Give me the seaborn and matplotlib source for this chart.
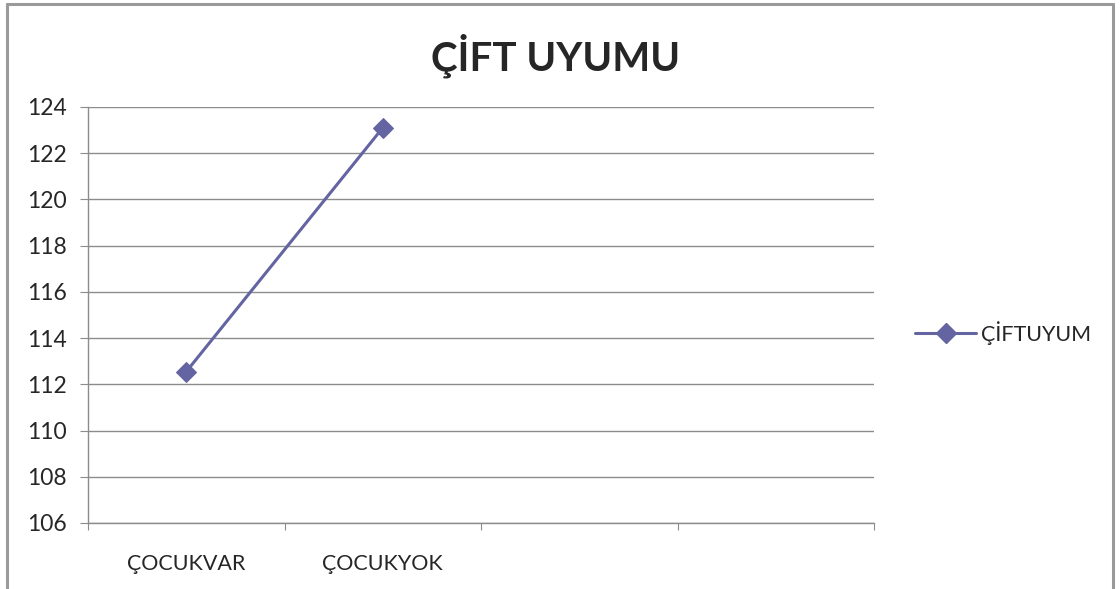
import numpy as np
import pandas as pd
import matplotlib
matplotlib.use('Agg')
import matplotlib.pyplot as plt
from matplotlib.lines import Line2D
import seaborn as sns

#%% data
categories = ['ÇOCUKVAR', 'ÇOCUKYOK', '', '']
values     = [112.55, 123.1]
series     = 'ÇİFTUYUM'
title      = 'ÇİFT UYUMU'
yticks     = np.arange(106, 125, 2)

df = pd.DataFrame({'x': np.arange(len(values)), 'y': values, 'serie': series})

#%% style
sns.set_style('white')
plt.rcParams['font.family'] = ['Lato', 'DejaVu Sans']
col   = '#6464A2'
gridc = '#8C8C8C'

fig = plt.figure(figsize=(11.2, 5.89), dpi=100)
ax = fig.add_axes([88/1120, 1-523/589, (874-88)/1120, (523-107)/589])

sns.lineplot(data=df, x='x', y='y', hue='serie', palette=[col], marker='D',
             markersize=10, markeredgecolor=col, linewidth=2.2, ax=ax, legend=False)

ax.set_xlim(-0.5, len(categories)-0.5)
ax.set_ylim(yticks[0], yticks[-1])
ax.set_yticks(yticks)
ax.set_yticklabels([str(v) for v in yticks], fontsize=16.5)
ax.set_xticks(np.arange(len(categories)+1)-0.5)
ax.set_xticklabels([])
ax.set_xticks(np.arange(len(categories)), minor=True)
ax.set_xticklabels(categories, minor=True, fontsize=15.5)
ax.tick_params(axis='x', which='minor', length=0, pad=22)
ax.tick_params(axis='x', which='major', length=5, color=gridc, direction='out', bottom=True)
ax.tick_params(axis='y', length=6, color=gridc, direction='out', left=True, pad=9)
ax.yaxis.grid(True, color=gridc, linewidth=1)
ax.set_axisbelow(True)
for s in ['top', 'right']:
    ax.spines[s].set_visible(False)
for s in ['left', 'bottom']:
    ax.spines[s].set_color(gridc)
    ax.spines[s].set_linewidth(1)
ax.set_xlabel('')
ax.set_ylabel('')

fig.text(556/1120, 1-56/589, title, ha='center', va='center', fontsize=29, fontweight='bold')

handle = Line2D([], [], color=col, marker='D', markersize=10, linewidth=2.2)
fig.legend([handle], [series], loc='center left', bbox_to_anchor=(896/1120, 1-333/589),
           frameon=False, fontsize=15.5, handlelength=2.8, handletextpad=0.25)

# chart area border (left, top, right)
bc = '#9A9A9A'
fig.add_artist(Line2D([6.5/1120, 6.5/1120], [0, 1-4/589], color=bc, linewidth=2.2, transform=fig.transFigure))
fig.add_artist(Line2D([6.5/1120, 1113/1120], [1-4/589, 1-4/589], color=bc, linewidth=2.2, transform=fig.transFigure))
fig.add_artist(Line2D([1113/1120, 1113/1120], [0, 1-4/589], color=bc, linewidth=2.2, transform=fig.transFigure))

fig.savefig('out.png', dpi=100)
